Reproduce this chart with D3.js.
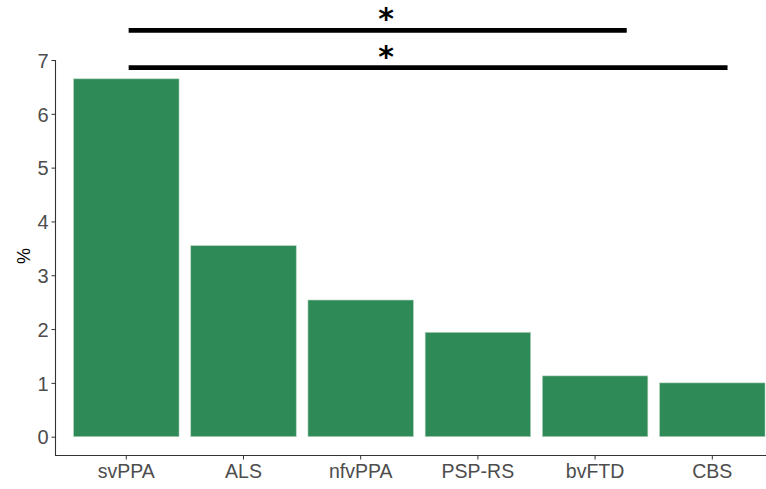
<!DOCTYPE html>
<html>
<head>
<meta charset="utf-8">
<script src="https://cdn.jsdelivr.net/npm/d3@7"></script>
<style>
body { margin: 0; background: #fff; }
text { font-family: "Liberation Sans", Arial, sans-serif; }
</style>
</head>
<body>
<div id="chart"></div>
<script>
var categories = ["svPPA", "ALS", "nfvPPA", "PSP-RS", "bvFTD", "CBS"];
var values = [6.65, 3.55, 2.54, 1.94, 1.13, 1.0];
var yTicks = [0, 1, 2, 3, 4, 5, 6, 7];
// significance brackets: start/end in category units (1 = first bar), height in %
var sigStart = [1.02, 1.02];
var sigEnd = [5.27, 6.13];
var sigY = [7.55, 6.86];
var sigLabel = ["*", "*"];

var w = 766, h = 489;

var svg = d3.select("#chart")
    .append("svg")
    .attr("width", w)
    .attr("height", h);

var xScale = d3.scaleBand()
    .domain(categories)
    .range([67.7, 770.9])
    .paddingInner(0.1)
    .paddingOuter(0.05);

var step = xScale.step();
// continuous position for category units
var xPos = d3.scaleLinear()
    .domain([1, 2])
    .range([xScale(categories[0]) + xScale.bandwidth() / 2,
            xScale(categories[0]) + xScale.bandwidth() / 2 + step]);

var yScale = d3.scaleLinear()
    .domain([0, 7])
    .range([436.7, 60]);

var data = categories.map(function(c, i) { return {cat: c, val: values[i]}; });

//bars
svg.selectAll("rect.bar")
    .data(data)
    .enter()
    .append("rect")
    .attr("class", "bar")
    .attr("x", function(d) { return xScale(d.cat); })
    .attr("y", function(d) { return yScale(d.val); })
    .attr("width", xScale.bandwidth())
    .attr("height", function(d) { return yScale(0) - yScale(d.val); })
    .attr("fill", "#2e8b57")
    .attr("stroke", "#b8d4c0")
    .attr("stroke-width", 0.6);

// y axis
var yAxis = d3.axisLeft(yScale)
    .tickValues(yTicks)
    .tickSize(4)
    .tickPadding(3)
    .tickFormat(d3.format("d"));

var gy = svg.append("g")
    .attr("class", "y.axis")
    .attr("transform", "translate(55.5,0)")
    .call(yAxis);
gy.select(".domain").attr("d", "M0,60V455.5").attr("stroke", "#333").attr("stroke-width", 1.1);
gy.selectAll(".tick line").attr("stroke", "#333");
gy.selectAll(".tick text").attr("fill", "#4d4d4d").style("font-size", "20px").attr("dy", "0.36em");

// x axis
var xAxis = d3.axisBottom(xScale)
    .tickSize(4)
    .tickPadding(3);

var gx = svg.append("g")
    .attr("class", "x.axis")
    .attr("transform", "translate(0,455.5)")
    .call(xAxis);
gx.select(".domain").attr("d", "M55,0H766").attr("stroke", "#333").attr("stroke-width", 1.1);
gx.selectAll(".tick line").attr("stroke", "#333");
gx.selectAll(".tick text").attr("fill", "#4d4d4d").style("font-size", "19.5px").attr("dy", "0.82em");

// y label
svg.append("text")
    .attr("transform", "translate(30,256) rotate(-90)")
    .attr("text-anchor", "middle")
    .style("font-size", "18px")
    .attr("fill", "#000")
    .text("%");

// significance lines
sigStart.forEach(function(s, i) {
    svg.append("line")
        .attr("x1", xPos(s))
        .attr("x2", xPos(sigEnd[i]))
        .attr("y1", yScale(sigY[i]))
        .attr("y2", yScale(sigY[i]))
        .attr("stroke", "#000")
        .attr("stroke-width", 4.8);
    svg.append("text")
        .attr("x", 386)
        .attr("y", yScale(sigY[i]) - 1)
        .attr("text-anchor", "middle")
        .style("font-family", "'DejaVu Sans', sans-serif")
        .style("font-size", "30px")
        .style("font-weight", "bold")
        .attr("fill", "#000")
        .text(sigLabel[i]);
});
</script>
</body>
</html>
